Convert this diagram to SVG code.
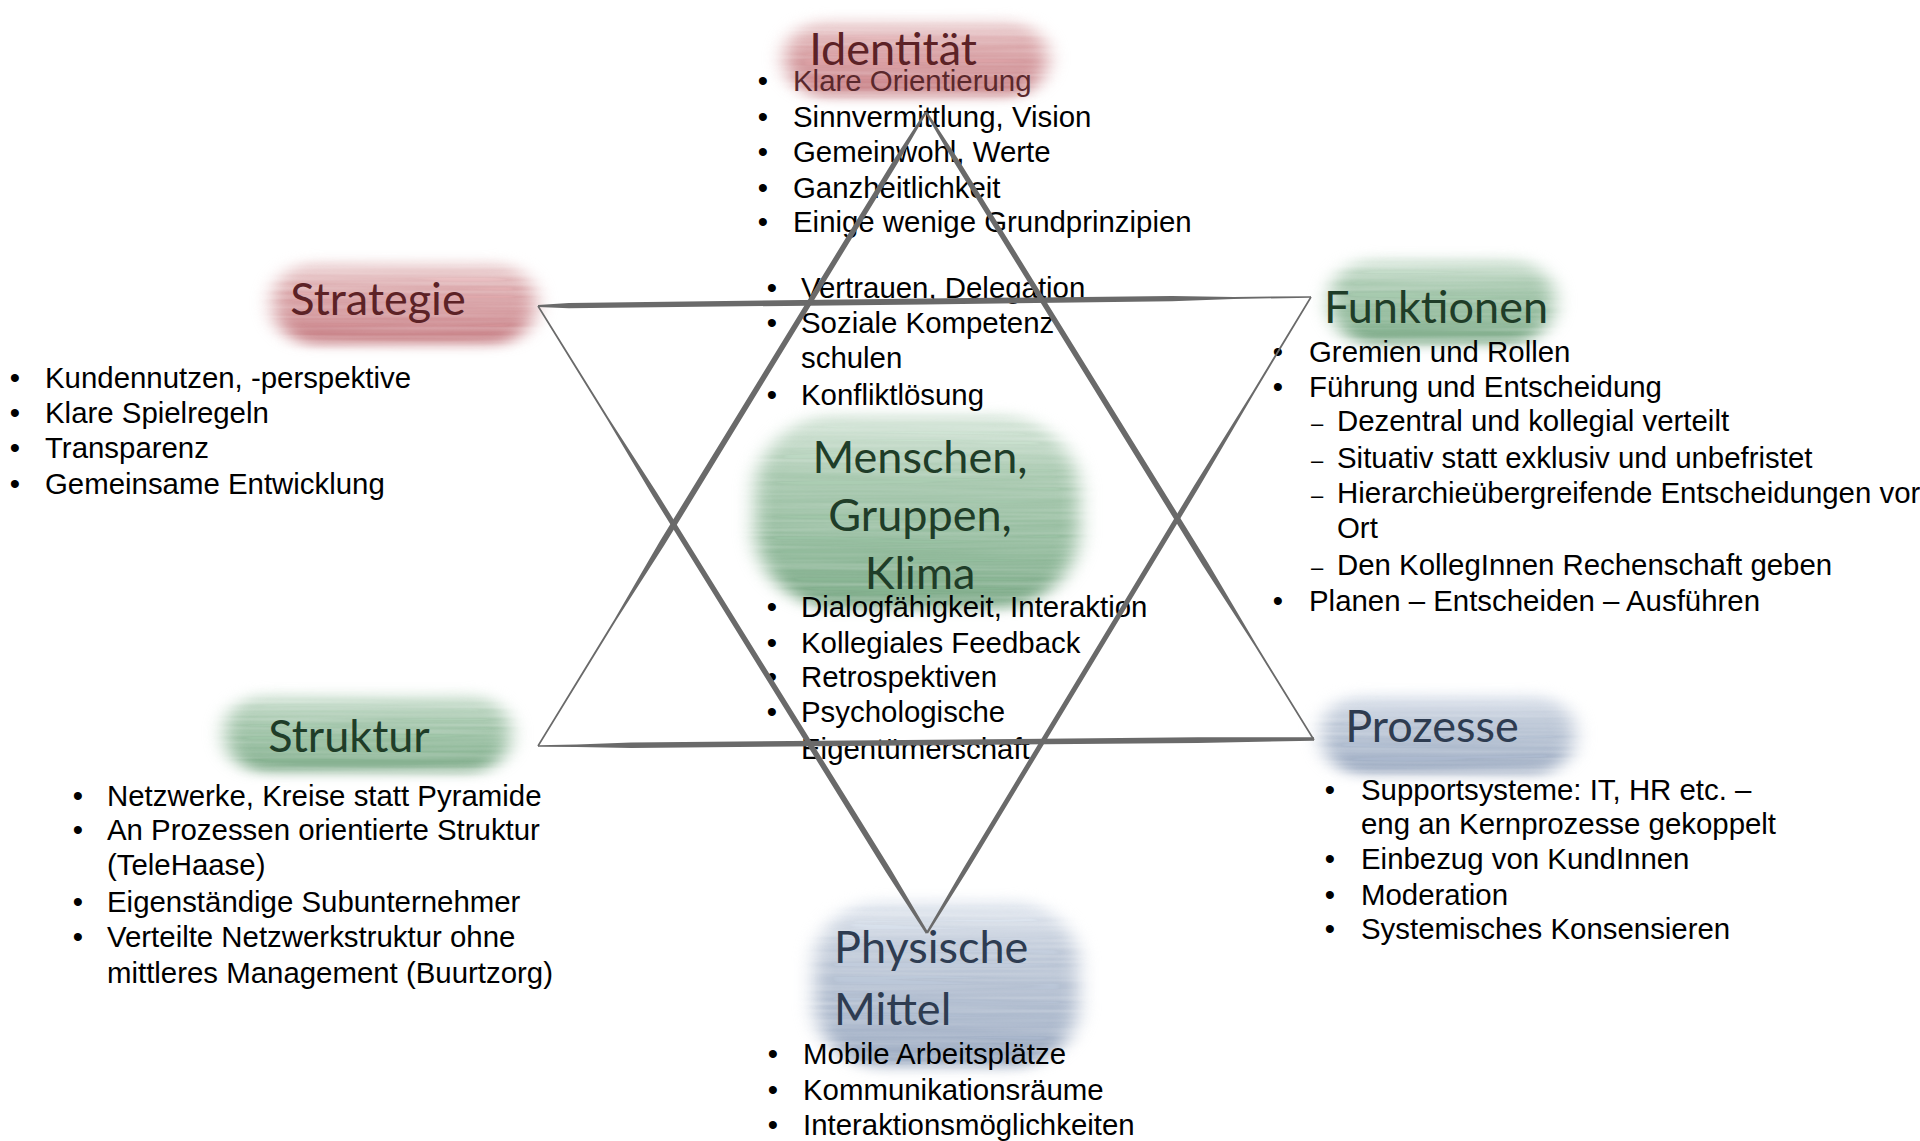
<svg xmlns="http://www.w3.org/2000/svg" width="1920" height="1141" viewBox="0 0 1920 1141">
<style>
.b{font-family:"Liberation Sans",Arial,sans-serif;font-size:29.4px;fill:#000}
.d{font-family:"Liberation Sans",Arial,sans-serif;font-size:29.4px;fill:#000;text-anchor:middle}
.s{font-family:"Liberation Sans",Arial,sans-serif;font-size:22px;fill:#000}
.t{font-family:Lato,"Open Sans",sans-serif;font-size:45px}
.tr{fill:#5c2226}
.tg{fill:#1f3d28}
.tb{fill:#2e3c51}
.edge{fill:#6a6a6a}
</style>
<defs>
<filter id="brush" x="-14%" y="-30%" width="128%" height="160%" color-interpolation-filters="sRGB">
<feGaussianBlur in="SourceGraphic" stdDeviation="10 6" result="soft"/>
<feTurbulence type="fractalNoise" baseFrequency="0.004 0.22" numOctaves="2" seed="7" result="noise"/>
<feColorMatrix in="noise" type="matrix" values="0 0 0 0 0  0 0 0 0 0  0 0 0 0 0  1.8 0 0 0 -0.25" result="mask"/>
<feComposite in="soft" in2="mask" operator="in" result="streaks"/>
<feComposite in="streaks" in2="soft" operator="arithmetic" k1="0" k2="0.25" k3="0.78" k4="0"/>
</filter>
<linearGradient id="gr" x1="0" y1="0" x2="0" y2="1">
<stop offset="0" stop-color="#f0dcdd"/><stop offset="0.3" stop-color="#dcaaad"/><stop offset="0.75" stop-color="#d09196"/><stop offset="1" stop-color="#c47a80"/>
</linearGradient>
<linearGradient id="gg" x1="0" y1="0" x2="0" y2="1">
<stop offset="0" stop-color="#dbe9de"/><stop offset="0.3" stop-color="#a9c9b0"/><stop offset="0.75" stop-color="#8fb899"/><stop offset="1" stop-color="#7ba886"/>
</linearGradient>
<linearGradient id="gb" x1="0" y1="0" x2="0" y2="1">
<stop offset="0" stop-color="#e6ebf2"/><stop offset="0.3" stop-color="#bfc9d8"/><stop offset="0.75" stop-color="#aab7cb"/><stop offset="1" stop-color="#98a7be"/>
</linearGradient>
</defs>
<rect width="1920" height="1141" fill="#fff"/>

<g id="identitaet">
<text class="d" x="763" y="91">•</text>
<text class="d" x="763" y="127">•</text>
<text class="d" x="763" y="162">•</text>
<text class="d" x="763" y="198">•</text>
<text class="d" x="763" y="232">•</text>
<text class="b" x="793" y="127">Sinnvermittlung, Vision</text>
<text class="b" x="793" y="162">Gemeinwohl, Werte</text>
<text class="b" x="793" y="198">Ganzheitlichkeit</text>
<text class="b" x="793" y="232">Einige wenige Grundprinzipien</text>
<rect x="785" y="20" width="262" height="76" rx="38" fill="url(#gr)" filter="url(#brush)"/>
<text class="b" x="793" y="91" style="fill:#5a282c">Klare Orientierung</text>
<text class="t tr" x="893" y="65" text-anchor="middle">Identität</text>
</g>

<g id="strategie">
<rect x="273" y="262" width="262" height="82" rx="40" fill="url(#gr)" filter="url(#brush)"/>
<text class="t tr" x="378" y="315" text-anchor="middle">Strategie</text>
<text class="d" x="15" y="388">•</text>
<text class="d" x="15" y="423">•</text>
<text class="d" x="15" y="458">•</text>
<text class="d" x="15" y="494">•</text>
<text class="b" x="45" y="388">Kundennutzen, -perspektive</text>
<text class="b" x="45" y="423">Klare Spielregeln</text>
<text class="b" x="45" y="458">Transparenz</text>
<text class="b" x="45" y="494">Gemeinsame Entwicklung</text>
</g>

<g id="funktionen">
<rect x="1330" y="258" width="224" height="86" rx="42" fill="url(#gg)" filter="url(#brush)"/>
<text class="t tg" x="1436" y="323" text-anchor="middle">Funktionen</text>
<text class="d" x="1278" y="362">•</text>
<text class="d" x="1278" y="397">•</text>
<text class="d" x="1278" y="611">•</text>
<text class="b" x="1309" y="362">Gremien und Rollen</text>
<text class="b" x="1309" y="397">Führung und Entscheidung</text>
<text class="s" x="1311" y="431">–</text>
<text class="s" x="1311" y="468">–</text>
<text class="s" x="1311" y="503">–</text>
<text class="s" x="1311" y="575">–</text>
<text class="b" x="1337" y="431">Dezentral und kollegial verteilt</text>
<text class="b" x="1337" y="468">Situativ statt exklusiv und unbefristet</text>
<text class="b" x="1337" y="503">Hierarchieübergreifende Entscheidungen vor</text>
<text class="b" x="1337" y="538">Ort</text>
<text class="b" x="1337" y="575">Den KollegInnen Rechenschaft geben</text>
<text class="b" x="1309" y="611">Planen – Entscheiden – Ausführen</text>
</g>

<g id="menschen">
<rect x="755" y="414" width="324" height="194" rx="80" fill="url(#gg)" filter="url(#brush)"/>
<text class="t tg" x="920" y="473" text-anchor="middle">Menschen,</text>
<text class="t tg" x="920" y="531" text-anchor="middle">Gruppen,</text>
<text class="t tg" x="920" y="589" text-anchor="middle">Klima</text>
<text class="d" x="772" y="298">•</text>
<text class="d" x="772" y="333">•</text>
<text class="d" x="772" y="405">•</text>
<text class="b" x="801" y="298">Vertrauen, Delegation</text>
<text class="b" x="801" y="333">Soziale Kompetenz</text>
<text class="b" x="801" y="368">schulen</text>
<text class="b" x="801" y="405">Konfliktlösung</text>
<text class="d" x="772" y="617">•</text>
<text class="d" x="772" y="653">•</text>
<text class="d" x="772" y="687">•</text>
<text class="d" x="772" y="722">•</text>
<text class="b" x="801" y="617">Dialogfähigkeit, Interaktion</text>
<text class="b" x="801" y="653">Kollegiales Feedback</text>
<text class="b" x="801" y="687">Retrospektiven</text>
<text class="b" x="801" y="722">Psychologische</text>
<text class="b" x="801" y="759">Eigentümerschaft</text>
</g>

<g id="struktur">
<rect x="225" y="694" width="285" height="78" rx="38" fill="url(#gg)" filter="url(#brush)"/>
<text class="t tg" x="349" y="752" text-anchor="middle">Struktur</text>
<text class="d" x="78" y="806">•</text>
<text class="d" x="78" y="840">•</text>
<text class="d" x="78" y="912">•</text>
<text class="d" x="78" y="947">•</text>
<text class="b" x="107" y="806">Netzwerke, Kreise statt Pyramide</text>
<text class="b" x="107" y="840">An Prozessen orientierte Struktur</text>
<text class="b" x="107" y="875">(TeleHaase)</text>
<text class="b" x="107" y="912">Eigenständige Subunternehmer</text>
<text class="b" x="107" y="947">Verteilte Netzwerkstruktur ohne</text>
<text class="b" x="107" y="983">mittleres Management (Buurtzorg)</text>
</g>

<g id="prozesse">
<rect x="1322" y="694" width="252" height="80" rx="38" fill="url(#gb)" filter="url(#brush)"/>
<text class="t tb" x="1432" y="742" text-anchor="middle">Prozesse</text>
<text class="d" x="1330" y="800">•</text>
<text class="d" x="1330" y="869">•</text>
<text class="d" x="1330" y="905">•</text>
<text class="d" x="1330" y="939">•</text>
<text class="b" x="1361" y="800">Supportsysteme: IT, HR etc. –</text>
<text class="b" x="1361" y="834">eng an Kernprozesse gekoppelt</text>
<text class="b" x="1361" y="869">Einbezug von KundInnen</text>
<text class="b" x="1361" y="905">Moderation</text>
<text class="b" x="1361" y="939">Systemisches Konsensieren</text>
</g>

<g id="physische-mittel">
<rect x="815" y="900" width="263" height="167" rx="65" fill="url(#gb)" filter="url(#brush)"/>
<text class="t tb" x="834" y="963">Physische</text>
<text class="t tb" x="834" y="1025">Mittel</text>
<text class="d" x="773" y="1064">•</text>
<text class="d" x="773" y="1100">•</text>
<text class="d" x="773" y="1135">•</text>
<text class="b" x="803" y="1064">Mobile Arbeitsplätze</text>
<text class="b" x="803" y="1100">Kommunikationsräume</text>
<text class="b" x="803" y="1135">Interaktionsmöglichkeiten</text>
</g>

<g id="connectors">
<polygon class="edge" points="538,306.9 568.9,308.2 924.5,304.4 1171.9,301.2 1233.7,298.9 1311,297.8 1311,296.2 1233.7,296.9 1171.9,296 924.5,298.6 568.9,303 538,305.1"/>
<polygon class="edge" points="537.3,306.4 607.2,419.4 652.5,495.5 885.7,871.8 925.9,933.7 928.1,932.3 890.5,868.8 656.9,492.7 608.9,418.4 538.7,305.6"/>
<polygon class="edge" points="1311.7,297.4 1254.3,392.9 1198,489.1 967.5,870.6 928,933.6 926,932.4 963.4,868.2 1193.6,486.5 1252.5,391.9 1310.3,296.6"/>
<polygon class="edge" points="927,112.6 897.2,164.1 664.7,544.6 616.5,619.7 538.7,746.4 537.3,745.6 614.8,618.7 659.7,541.6 892.8,161.3 925,111.4"/>
<polygon class="edge" points="925,112.6 954.8,163.6 1202.9,565.7 1255,646.3 1313.3,740.4 1314.7,739.6 1256.7,645.3 1207.9,562.7 959.2,160.8 927,111.4"/>
<polygon class="edge" points="538,746.8 576.8,746.9 631.1,748 1197.6,742.9 1314,740.8 1314,737.2 1197.6,737.3 631.1,742.4 576.8,744.5 538,745.2"/>
</g>
</svg>
